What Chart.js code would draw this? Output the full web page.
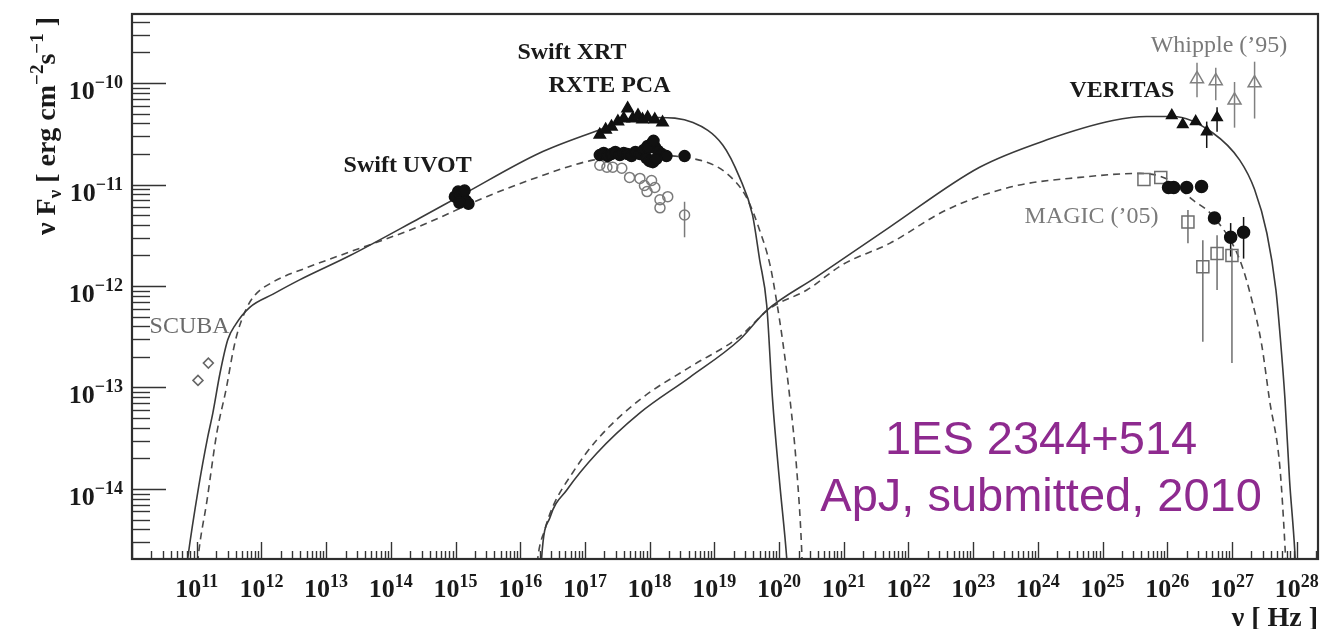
<!DOCTYPE html>
<html>
<head>
<meta charset="utf-8">
<title>1ES 2344+514 SED</title>
<script src="https://cdn.jsdelivr.net/npm/chart.js@4.4.1/dist/chart.umd.min.js"></script>
<style>
  html, body { margin: 0; padding: 0; background: #fff; }
  #wrap { width: 1334px; height: 629px; }
</style>
</head>
<body>
<div id="wrap"><canvas id="sedChart" width="1334" height="629"></canvas></div>
<script>
// All values are log10(nu / Hz) and log10(nu F_nu / erg cm^-2 s^-1)

// ---- SSC model, solid ----
const syncSolidLogNu   = [10.83, 10.86, 11.03, 11.17, 11.25, 11.36, 11.48, 11.60, 11.82, 12.18, 12.59, 13.37, 14.45, 15.11, 16.30, 17.23, 17.65, 18.11, 18.67, 19.13, 19.39, 19.59, 19.70, 19.81, 19.90, 20.01, 20.12, 20.15];
const syncSolidLogFlux = [-14.85, -14.69, -13.98, -13.49, -13.25, -12.86, -12.53, -12.38, -12.21, -12.08, -11.94, -11.70, -11.33, -11.10, -10.69, -10.46, -10.36, -10.34, -10.39, -10.61, -10.93, -11.30, -11.74, -12.19, -13.12, -13.94, -14.69, -14.99];
const icSolidLogNu     = [16.32, 16.33, 16.46, 16.72, 17.18, 17.85, 18.62, 19.39, 19.81, 20.58, 21.71, 23.10, 24.14, 25.16, 25.68, 26.09, 26.70, 27.12, 27.35, 27.54, 27.68, 27.75, 27.82, 27.89, 27.97, 28.00];
const icSolidLogFlux   = [-14.85, -14.69, -14.28, -14.01, -13.65, -13.25, -12.90, -12.53, -12.24, -11.91, -11.42, -10.83, -10.56, -10.37, -10.33, -10.33, -10.49, -10.76, -11.05, -11.48, -12.04, -12.53, -13.12, -13.91, -14.60, -14.99];

// ---- SSC model, dashed ----
const syncDashLogNu    = [11.00, 11.02, 11.16, 11.31, 11.46, 11.56, 11.63, 11.77, 11.90, 12.18, 12.70, 13.21, 14.45, 15.48, 16.26, 17.12, 17.85, 18.77, 19.19, 19.50, 19.70, 19.86, 19.96, 20.06, 20.17, 20.27, 20.35, 20.37];
const syncDashLogFlux  = [-14.85, -14.69, -14.11, -13.45, -13.00, -12.65, -12.46, -12.22, -12.09, -11.96, -11.82, -11.70, -11.41, -11.12, -10.93, -10.76, -10.71, -10.76, -10.89, -11.13, -11.45, -11.79, -12.14, -12.56, -13.12, -13.78, -14.60, -14.99];
const icDashLogNu      = [16.25, 16.27, 16.38, 16.50, 16.81, 17.18, 17.85, 18.62, 19.39, 19.86, 20.43, 20.98, 21.71, 22.59, 23.61, 24.65, 25.58, 26.04, 26.39, 26.69, 27.12, 27.32, 27.46, 27.58, 27.74, 27.82, 27.85];
const icDashLogFlux    = [-14.85, -14.69, -14.40, -14.18, -13.84, -13.52, -13.12, -12.80, -12.50, -12.22, -12.04, -11.79, -11.58, -11.25, -11.02, -10.93, -10.89, -10.96, -11.15, -11.30, -11.74, -12.17, -12.58, -13.12, -13.78, -14.57, -14.99];

// ---- measurements ----
const scubaLogNu   = [11.02, 11.18];
const scubaLogFlux = [-12.93, -12.76];

const uvotLogNu   = [14.99, 15.04, 15.08, 15.12, 15.16, 15.20, 15.06, 15.14];
const uvotLogFlux = [-11.12, -11.07, -11.10, -11.13, -11.16, -11.19, -11.18, -11.06];

const xrtLogNu   = [17.23, 17.32, 17.41, 17.51, 17.60, 17.66, 17.74, 17.82, 17.89, 17.97, 18.08, 18.20];
const xrtLogFlux = [-10.51, -10.46, -10.43, -10.38, -10.35, -10.25, -10.35, -10.32, -10.36, -10.34, -10.36, -10.39];

const pcaLogNu   = [17.23, 17.29, 17.35, 17.41, 17.47, 17.54, 17.60, 17.66, 17.72, 17.78, 17.85, 17.91, 17.97, 18.03, 18.08, 18.13, 18.19, 18.26, 17.95, 18.00, 18.05, 18.10, 17.98, 18.06, 18.54];
const pcaLogFlux = [-10.71, -10.69, -10.72, -10.70, -10.68, -10.71, -10.69, -10.70, -10.72, -10.68, -10.70, -10.66, -10.62, -10.60, -10.63, -10.67, -10.70, -10.72, -10.74, -10.77, -10.78, -10.75, -10.64, -10.57, -10.72];

const xrayLowLogNu   = [17.23, 17.34, 17.43, 17.57, 17.69, 17.85, 17.92, 18.03, 18.08, 17.96, 18.16, 18.28, 18.16, 18.54];
const xrayLowLogFlux = [-10.81, -10.83, -10.83, -10.84, -10.93, -10.94, -11.01, -10.96, -11.03, -11.07, -11.15, -11.12, -11.23, -11.30];
const xrayLowErrLo   = [null, null, null, null, null, null, null, null, null, null, null, null, null, -11.52];
const xrayLowErrHi   = [null, null, null, null, null, null, null, null, null, null, null, null, null, -11.17];

const veritasHighLogNu   = [26.07, 26.24, 26.44, 26.61, 26.77];
const veritasHighLogFlux = [-10.32, -10.41, -10.38, -10.48, -10.34];
const veritasHighErrLo   = [null, null, null, -10.64, -10.48];
const veritasHighErrHi   = [null, null, null, -10.38, -10.24];

const veritasLowLogNu   = [26.02, 26.10, 26.30, 26.53, 26.73, 26.98, 27.18];
const veritasLowLogFlux = [-11.03, -11.03, -11.03, -11.02, -11.33, -11.52, -11.47];
const veritasLowErrLo   = [null, null, null, null, null, -11.71, -11.73];
const veritasLowErrHi   = [null, null, null, null, null, -11.38, -11.32];

const whippleLogNu   = [26.46, 26.75, 27.04, 27.35];
const whippleLogFlux = [-9.96, -9.98, -10.17, -10.00];
const whippleErrLo   = [-10.14, -10.17, -10.44, -10.35];
const whippleErrHi   = [-9.80, -9.85, -9.99, -9.79];

const magicLogNu   = [25.64, 25.90, 26.32, 26.55, 26.77, 27.00];
const magicLogFlux = [-10.95, -10.93, -11.37, -11.81, -11.68, -11.70];
const magicErrLo   = [null, null, -11.58, -12.55, -12.04, -12.76];
const magicErrHi   = [null, null, -11.25, -11.55, -11.50, -11.63];

// ---- axes ----
const xLogMin = 10, xLogMax = 28.33;
const yLogMin = -14.69, yLogMax = -9.32;
const xDecades = [11, 12, 13, 14, 15, 16, 17, 18, 19, 20, 21, 22, 23, 24, 25, 26, 27, 28];
const yDecades = [-14, -13, -12, -11, -10];

// ---- text placed in data coordinates ----
const labels = [
  { text: 'Swift UVOT',    lx: 14.26, ly: -10.82, bold: true,  color: '#1a1a1a' },
  { text: 'Swift XRT',     lx: 16.80, ly: -9.70,  bold: true,  color: '#1a1a1a' },
  { text: 'RXTE PCA',      lx: 17.38, ly: -10.03, bold: true,  color: '#1a1a1a' },
  { text: 'VERITAS',       lx: 25.30, ly: -10.08, bold: true,  color: '#1a1a1a' },
  { text: 'Whipple (\u201995)', lx: 26.80, ly: -9.63, bold: false, color: '#7a7a7a' },
  { text: 'MAGIC (\u201905)',   lx: 24.83, ly: -11.32, bold: false, color: '#7a7a7a' },
  { text: 'SCUBA',         lx: 10.89, ly: -12.40, bold: false, color: '#6a6a6a' }
];
const captionLines = ['1ES 2344+514', 'ApJ, submitted, 2010'];
const captionLogNu = 24.05;
const captionLogFlux = [-13.53, -14.09];

const SERIF = '"Liberation Serif", "Times New Roman", serif';
const SANS = '"Liberation Sans", Arial, Helvetica, sans-serif';

const pts = (lx, ly) => lx.map((v, i) => ({ x: Math.pow(10, v), y: Math.pow(10, ly[i]) }));

function curve(lx, ly, dashed) {
  return {
    data: pts(lx, ly),
    showLine: true,
    pointRadius: 0,
    borderColor: dashed ? '#4a4a4a' : '#3a3a3a',
    borderWidth: 1.6,
    borderDash: dashed ? [7, 5] : [],
    cubicInterpolationMode: 'monotone',
    fill: false
  };
}

function markers(lx, ly, style, radius, filled, color, errLo, errHi) {
  return {
    data: pts(lx, ly),
    showLine: false,
    pointStyle: style,
    pointRadius: radius,
    pointBorderWidth: 1.5,
    pointBorderColor: color,
    pointBackgroundColor: filled ? color : 'rgba(255,255,255,0)',
    errLo: errLo,
    errHi: errHi
  };
}

// draws rich text: parts = [{ text, font, dy }]
function drawRich(ctx, parts, x, y, align) {
  let total = 0;
  parts.forEach(p => { ctx.font = p.font; p.w = ctx.measureText(p.text).width; total += p.w; });
  let cx = align === 'center' ? x - total / 2 : (align === 'right' ? x - total : x);
  ctx.textAlign = 'left';
  ctx.textBaseline = 'alphabetic';
  parts.forEach(p => { ctx.font = p.font; ctx.fillText(p.text, cx, y + (p.dy || 0)); cx += p.w; });
}

const sedDecor = {
  id: 'sedDecor',
  beforeDatasetsDraw(chart) {
    const ctx = chart.ctx, xs = chart.scales.x, ys = chart.scales.y;
    ctx.save();
    chart.data.datasets.forEach(ds => {
      if (!ds.errLo) return;
      ctx.strokeStyle = ds.pointBorderColor;
      ctx.lineWidth = 1.5;
      ds.data.forEach((p, i) => {
        if (ds.errLo[i] == null) return;
        const px = xs.getPixelForValue(p.x);
        ctx.beginPath();
        ctx.moveTo(px, ys.getPixelForValue(Math.pow(10, ds.errLo[i])));
        ctx.lineTo(px, ys.getPixelForValue(Math.pow(10, ds.errHi[i])));
        ctx.stroke();
      });
    });
    ctx.restore();
  },
  afterDraw(chart) {
    const ctx = chart.ctx, xs = chart.scales.x, ys = chart.scales.y;
    const a = chart.chartArea;
    ctx.save();

    // tick marks along the bottom and left edges, drawn inward
    ctx.strokeStyle = '#333';
    ctx.lineWidth = 1.4;
    for (let d = Math.floor(xLogMin); d <= Math.ceil(xLogMax); d++) {
      for (let m = 1; m <= 9; m++) {
        const lv = d + Math.log10(m);
        if (lv < xLogMin || lv > xLogMax) continue;
        const px = Math.round(xs.getPixelForValue(Math.pow(10, lv))) + 0.5;
        const len = m === 1 ? 17 : 8;
        ctx.beginPath();
        ctx.moveTo(px, a.bottom);
        ctx.lineTo(px, a.bottom - len);
        ctx.stroke();
      }
    }
    for (let d = Math.floor(yLogMin); d <= Math.ceil(yLogMax); d++) {
      for (let m = 1; m <= 9; m++) {
        const lv = d + Math.log10(m);
        if (lv < yLogMin || lv > yLogMax) continue;
        const py = Math.round(ys.getPixelForValue(Math.pow(10, lv))) + 0.5;
        const len = m === 1 ? 34 : 18;
        ctx.beginPath();
        ctx.moveTo(a.left, py);
        ctx.lineTo(a.left + len, py);
        ctx.stroke();
      }
    }

    // frame
    ctx.strokeStyle = '#2e2e2e';
    ctx.lineWidth = 2.2;
    ctx.strokeRect(a.left, a.top, a.right - a.left, a.bottom - a.top);

    // tick labels
    ctx.fillStyle = '#1a1a1a';
    const big = 'bold 26px ' + SERIF, small = 'bold 18px ' + SERIF;
    xDecades.forEach(d => {
      const px = xs.getPixelForValue(Math.pow(10, d));
      drawRich(ctx, [{ text: '10', font: big }, { text: String(d), font: small, dy: -10 }], px, a.bottom + 38, 'center');
    });
    yDecades.forEach(d => {
      const py = ys.getPixelForValue(Math.pow(10, d));
      drawRich(ctx, [{ text: '10', font: big }, { text: '\u2212' + Math.abs(d), font: small, dy: -11 }], a.left - 9, py + 16, 'right');
    });

    // axis titles
    const tf = 'bold 28px ' + SERIF, sf = 'bold 19px ' + SERIF;
    drawRich(ctx, [
      { text: '\u03bd [ Hz ]', font: tf }
    ], a.right, a.bottom + 67, 'right');
    ctx.save();
    ctx.translate(a.left - 86, a.top + 112);
    ctx.rotate(-Math.PI / 2);
    drawRich(ctx, [
      { text: '\u03bd F', font: tf },
      { text: '\u03bd', font: sf, dy: 6 },
      { text: ' [ erg cm', font: tf },
      { text: '\u22122', font: sf, dy: -12 },
      { text: 's', font: tf },
      { text: '\u22121', font: sf, dy: -12 },
      { text: ' ]', font: tf }
    ], 0, 9, 'center');
    ctx.restore();

    // data set labels
    ctx.textAlign = 'center';
    ctx.textBaseline = 'middle';
    labels.forEach(l => {
      ctx.font = (l.bold ? 'bold ' : '') + '24px ' + SERIF;
      ctx.fillStyle = l.color;
      ctx.fillText(l.text, xs.getPixelForValue(Math.pow(10, l.lx)), ys.getPixelForValue(Math.pow(10, l.ly)));
    });

    // caption
    ctx.font = '47px ' + SANS;
    ctx.fillStyle = '#8e2a8f';
    captionLines.forEach((t, i) => {
      ctx.fillText(t, xs.getPixelForValue(Math.pow(10, captionLogNu)), ys.getPixelForValue(Math.pow(10, captionLogFlux[i])));
    });
    ctx.restore();
  }
};

new Chart(document.getElementById('sedChart'), {
  type: 'scatter',
  data: {
    datasets: [
      markers(veritasHighLogNu, veritasHighLogFlux, 'triangle', 6, true, '#111', veritasHighErrLo, veritasHighErrHi),
      markers(veritasLowLogNu, veritasLowLogFlux, 'circle', 6, true, '#111', veritasLowErrLo, veritasLowErrHi),
      markers(whippleLogNu, whippleLogFlux, 'triangle', 7.5, false, '#808080', whippleErrLo, whippleErrHi),
      markers(magicLogNu, magicLogFlux, 'rect', 8.5, false, '#6e6e6e', magicErrLo, magicErrHi),
      markers(xrtLogNu, xrtLogFlux, 'triangle', 6.5, true, '#111'),
      markers(pcaLogNu, pcaLogFlux, 'circle', 5.5, true, '#111'),
      markers(xrayLowLogNu, xrayLowLogFlux, 'circle', 5, false, '#7a7a7a', xrayLowErrLo, xrayLowErrHi),
      markers(uvotLogNu, uvotLogFlux, 'circle', 5.5, true, '#111'),
      markers(scubaLogNu, scubaLogFlux, 'rectRot', 5, false, '#666'),
      curve(syncSolidLogNu, syncSolidLogFlux, false),
      curve(icSolidLogNu, icSolidLogFlux, false),
      curve(syncDashLogNu, syncDashLogFlux, true),
      curve(icDashLogNu, icDashLogFlux, true)
    ]
  },
  options: {
    responsive: false,
    animation: false,
    events: [],
    layout: { padding: { left: 132, top: 14, right: 16, bottom: 70 } },
    plugins: { legend: { display: false }, tooltip: { enabled: false } },
    scales: {
      x: { type: 'logarithmic', display: false, min: Math.pow(10, xLogMin), max: Math.pow(10, xLogMax) },
      y: { type: 'logarithmic', display: false, min: Math.pow(10, yLogMin), max: Math.pow(10, yLogMax) }
    }
  },
  plugins: [sedDecor]
});
</script>
</body>
</html>
